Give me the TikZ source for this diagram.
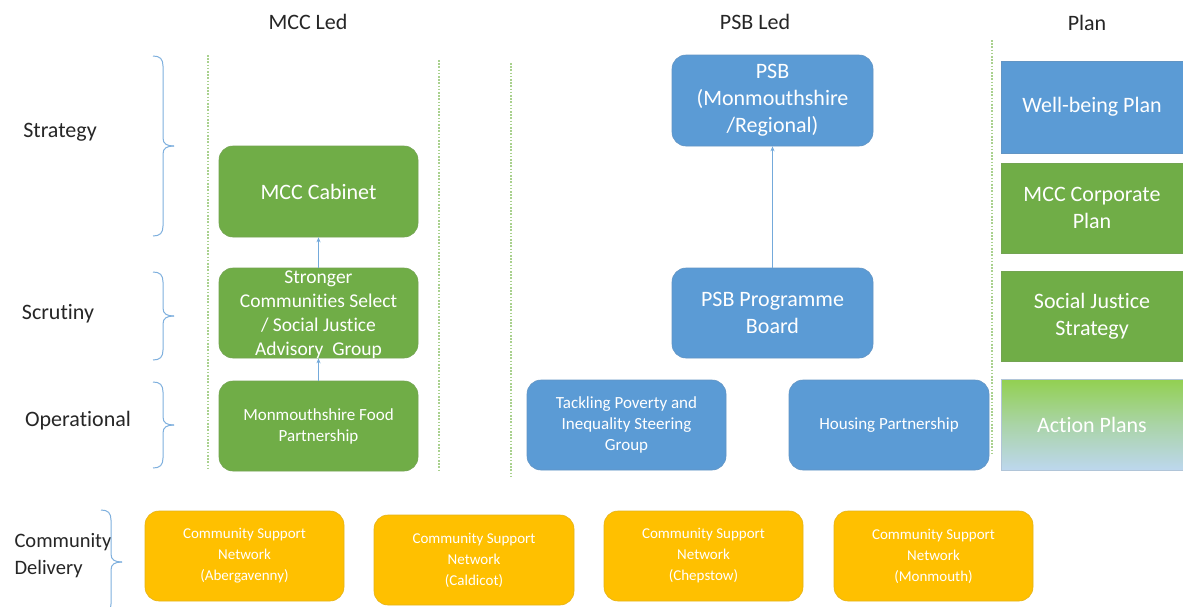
\documentclass[tikz,border=0pt]{standalone}
\usepackage{fontspec}
\setmainfont{Carlito}[Ligatures={NoCommon}]
\usetikzlibrary{arrows.meta}
\definecolor{mgreen}{HTML}{70AD47}
\definecolor{mblue}{HTML}{5B9BD5}
\definecolor{morange}{HTML}{FFC000}
\definecolor{dotgreen}{HTML}{A9D18E}
\definecolor{lblgray}{HTML}{262626}
\definecolor{apgreen}{HTML}{92D050}
\definecolor{apblue}{HTML}{BDD7EE}
\definecolor{brcblue}{HTML}{7FB0DE}
\begin{document}
\begin{tikzpicture}[x=1pt,y=-1pt,
  box/.style={rounded corners=14pt, minimum width=200pt, minimum height=90pt, inner sep=1pt, align=center, text=white, draw=#1!80!gray, fill=#1, line width=0.6pt},
  planbox/.style={rectangle, minimum width=182pt, minimum height=91pt, inner sep=1pt, align=center, text=white, draw=#1!80!gray, fill=#1, line width=0.6pt},
  bigf/.style={font=\fontsize{22}{27}\selectfont},
  midf/.style={font=\fontsize{19.5}{24}\selectfont},
  smallf/.style={font=\fontsize{17}{21}\selectfont},
  tinyf/.style={font=\fontsize{15}{21}\selectfont},
  header/.style={font=\fontsize{22}{27}\selectfont, text=lblgray},
  lbl/.style={font=\fontsize{22}{27}\selectfont, text=lblgray, align=left},
  conn/.style={draw=mblue!85!white, line width=0.8pt, -{Stealth[length=5pt,width=4pt]}},
  divider/.style={draw=dotgreen, line width=1.3pt, dash pattern=on 1.6pt off 1.6pt},
  brc/.style={draw=brcblue, line width=1pt},
  pics/rbr/.style={code={
    \draw[brc] (0,-#1) .. controls (7,-#1) and (10,-#1+3) .. (10,-#1+10) -- (10,-8) .. controls (10,-2) and (14,0) .. (21,0);
    \draw[brc] (0,#1) .. controls (7,#1) and (10,#1-3) .. (10,#1-10) -- (10,8) .. controls (10,2) and (14,0) .. (21,0);
  }}
]
\fill[white] (0,0) rectangle (1183,606);
\useasboundingbox (0,0) rectangle (1183,606);

% headers
\node[header] (hmcc) at (308,22) {MCC Led};
\node[header] (hpsb) at (755,22) {PSB Led};
\node[header] (hplan) at (1087,23) {Plan};

% left labels
\node[lbl] (lstrat) at (60,132) {Strategy};
\node[lbl] (lscrut) at (58,314) {Scrutiny};
\node[lbl] (loper) at (78,421) {Operational};
\node[lbl, font=\fontsize{20.5}{27}\selectfont, anchor=west] (lcomm) at (11,556) {Community\\Delivery};

% braces
\pic at (153,146) {rbr=90};
\pic at (153,316) {rbr=44};
\pic at (153,425) {rbr=43};
\pic at (101,562) {rbr=52};

% dotted dividers
\draw[divider] (208,55) -- (208,470);
\draw[divider] (439,60) -- (439,470);
\draw[divider] (511,63) -- (511,477);
\draw[divider] (992,40) -- (992,455);

% MCC led
\node[box=mgreen, bigf, minimum width=199pt, minimum height=91pt] (cabinet) at (318.5,191.5) {MCC Cabinet};
\node[box=mgreen, minimum width=199pt] (stronger) at (318.5,313) {};
\node[midf, text=white, align=center, inner sep=0pt] (strongertext) at (318.5,314.5) {Stronger\\Communities Select\\/ Social Justice\\Advisory~ Group};
\node[box=mgreen, smallf, minimum width=199pt] (food) at (318.5,426) {Monmouthshire Food\\Partnership};

\draw[conn] (food.north) -- (stronger.south);
\draw[conn] (stronger.north) -- (cabinet.south);

% PSB led
\node[box=mblue, bigf, minimum width=201pt, minimum height=91pt] (psb) at (772.5,100.5) {PSB\\(Monmouthshire\\/Regional)};
\node[box=mblue, bigf, minimum width=201pt] (prog) at (772.5,313) {PSB Programme\\Board};
\node[box=mblue, smallf, minimum width=199pt] (tackle) at (626.5,425) {Tackling Poverty and\\Inequality Steering\\Group};
\node[box=mblue, smallf] (housing) at (889,425) {Housing Partnership};

\draw[conn] (prog.north) -- (psb.south);

% Plan column
\node[planbox=mblue, bigf, minimum height=92pt] (wellbeing) at (1092,107) {Well-being Plan};
\node[planbox=mgreen, bigf, minimum height=90pt] (corporate) at (1092,208) {MCC Corporate\\Plan};
\node[planbox=mgreen, bigf, minimum height=90pt] (socjust) at (1092,316) {Social Justice\\Strategy};
\node[planbox=apblue, bigf, top color=apgreen, bottom color=apblue, middle color=apgreen!45!apblue] (action) at (1092,424.5) {Action Plans};

% Community delivery
\node[box=morange, tinyf, minimum width=199pt] (cs1) at (244.5,556) {Community Support\\Network\\(Abergavenny)};
\node[box=morange, tinyf] (cs2) at (474,560) {Community Support\\Network\\(Caldicot)};
\node[box=morange, tinyf, minimum width=199pt] (cs3) at (703.5,556) {Community Support\\Network\\(Chepstow)};
\node[box=morange, tinyf, minimum width=199pt] (cs4) at (933.5,556) {Community Support\\Network\\(Monmouth)};
\end{tikzpicture}
\end{document}
